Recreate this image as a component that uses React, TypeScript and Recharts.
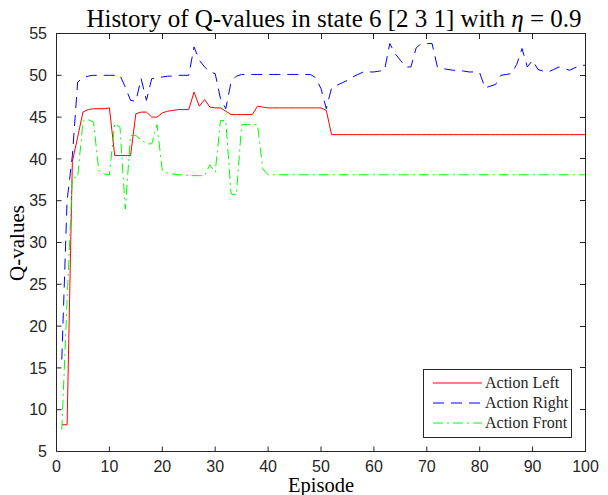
import { LineChart, Line, XAxis, YAxis } from "recharts";

// episode numbers 1..100
const episodes = Array.from({ length: 100 }, (_, i) => i + 1);

const qLeft = [
  8.2, 8.2, 39.7, 42.6, 45.6, 45.9, 46.0, 46.0, 46.0, 46.1,
  40.4, 40.4, 40.4, 40.4, 45.4, 45.6, 45.6, 45.0, 45.0, 45.5,
  45.7, 45.8, 45.9, 45.9, 45.9, 48.0, 46.3, 47.1, 46.2, 46.1,
  46.1, 45.7, 45.3, 45.3, 45.3, 45.3, 45.3, 46.3, 46.2, 46.1,
  46.1, 46.1, 46.1, 46.1, 46.1, 46.1, 46.1, 46.1, 46.1, 46.1,
  45.8, 42.9, 42.9, 42.9, 42.9, 42.9, 42.9, 42.9, 42.9, 42.9,
  42.9, 42.9, 42.9, 42.9, 42.9, 42.9, 42.9, 42.9, 42.9, 42.9,
  42.9, 42.9, 42.9, 42.9, 42.9, 42.9, 42.9, 42.9, 42.9, 42.9,
  42.9, 42.9, 42.9, 42.9, 42.9, 42.9, 42.9, 42.9, 42.9, 42.9,
  42.9, 42.9, 42.9, 42.9, 42.9, 42.9, 42.9, 42.9, 42.9, 42.9,
];

const qRight = [
  16.0, 35.0, 40.4, 49.2, 49.7, 49.9, 50.0, 50.0, 50.0, 50.0,
  50.0, 50.0, 48.6, 47.0, 46.9, 49.6, 47.0, 49.6, 49.7, 49.8,
  49.9, 49.9, 50.0, 50.0, 50.0, 53.4, 51.8, 51.0, 50.4, 50.2,
  47.2, 46.0, 49.2, 49.9, 50.1, 50.1, 50.1, 50.1, 50.1, 50.1,
  50.1, 50.1, 50.1, 50.1, 50.1, 50.1, 50.1, 50.1, 49.7, 48.4,
  46.0, 48.5, 48.8, 49.1, 49.4, 49.8, 50.1, 50.4, 50.4, 50.4,
  50.5, 50.6, 53.8, 52.6, 51.8, 51.0, 51.0, 53.3, 53.8, 53.8,
  53.8, 51.0, 50.8, 50.7, 50.6, 50.6, 50.5, 50.4, 50.4, 50.3,
  48.5, 48.7, 48.9, 50.0, 50.1, 50.2, 51.3, 53.2, 51.0, 51.8,
  50.7, 50.5, 50.4, 50.7, 51.0, 50.8, 50.6, 50.9, 51.2, 51.2,
];

const qFront = [
  7.6, 23.0, 37.8, 37.8, 44.5, 44.7, 44.4, 38.6, 38.2, 38.1,
  44.2, 43.8, 34.0, 42.8, 42.8, 42.3, 41.8, 41.8, 44.1, 38.6,
  38.3, 38.2, 38.1, 38.1, 38.0, 38.0, 38.0, 38.0, 39.3, 38.4,
  44.6, 44.6, 35.8, 35.7, 44.1, 44.1, 44.1, 44.1, 38.8, 38.1,
  38.1, 38.1, 38.1, 38.1, 38.1, 38.1, 38.1, 38.1, 38.1, 38.1,
  38.1, 38.1, 38.1, 38.1, 38.1, 38.1, 38.1, 38.1, 38.1, 38.1,
  38.1, 38.1, 38.1, 38.1, 38.1, 38.1, 38.1, 38.1, 38.1, 38.1,
  38.1, 38.1, 38.1, 38.1, 38.1, 38.1, 38.1, 38.1, 38.1, 38.1,
  38.1, 38.1, 38.1, 38.1, 38.1, 38.1, 38.1, 38.1, 38.1, 38.1,
  38.1, 38.1, 38.1, 38.1, 38.1, 38.1, 38.1, 38.1, 38.1, 38.1,
];

const xTicks = [0, 10, 20, 30, 40, 50, 60, 70, 80, 90, 100];
const yTicks = [5, 10, 15, 20, 25, 30, 35, 40, 45, 50, 55];

const seriesNames = ["Action Left", "Action Right", "Action Front"];

const data = episodes.map((ep, i) => ({
  ep,
  left: qLeft[i],
  right: qRight[i],
  front: qFront[i],
}));

const AXIS = "#262626";
const SERIF = "'Liberation Serif', 'Times New Roman', serif";
const SANS = "'Liberation Sans', Arial, sans-serif";

const X_MIN = xTicks[0];
const X_MAX = xTicks[xTicks.length - 1];
const Y_MIN = yTicks[0];
const Y_MAX = yTicks[yTicks.length - 1];

// plot box (matches chart margin + axis sizes below)
const PLOT_W = 529;
const PLOT_H = 418;

const series = [
  { key: "left", name: seriesNames[0], color: "#ff0000", dash: undefined },
  { key: "right", name: seriesNames[1], color: "#0000ff", dash: "11 7" },
  { key: "front", name: seriesNames[2], color: "#00ff00", dash: "10 4 2 4" },
];

// closes the MATLAB-style box: top and right edges with inward ticks
function Frame() {
  return (
    <div
      style={{
        position: "absolute",
        left: 56,
        top: 33,
        width: PLOT_W + 1,
        height: PLOT_H + 1,
        boxSizing: "border-box",
        borderTop: `1px solid ${AXIS}`,
        borderRight: `1px solid ${AXIS}`,
        pointerEvents: "none",
      }}
    >
      {xTicks.map((t) => (
        <div
          key={`tx-${t}`}
          style={{
            position: "absolute",
            left: (PLOT_W * (t - X_MIN)) / (X_MAX - X_MIN),
            top: 0,
            width: 1,
            height: 5,
            background: AXIS,
          }}
        />
      ))}
      {yTicks.map((t) => (
        <div
          key={`ty-${t}`}
          style={{
            position: "absolute",
            right: 0,
            top: PLOT_H * (1 - (t - Y_MIN) / (Y_MAX - Y_MIN)) - 1,
            width: 5,
            height: 1,
            background: AXIS,
          }}
        />
      ))}
    </div>
  );
}

function LegendBox() {
  return (
    <div
      style={{
        position: "absolute",
        left: 423,
        top: 369,
        width: 147,
        height: 64,
        border: `1px solid ${AXIS}`,
        background: "#fff",
        paddingTop: 3,
        boxSizing: "content-box",
      }}
    >
      {series.map((s) => (
        <div
          key={s.key}
          style={{ display: "flex", alignItems: "center", height: 20 }}
        >
          <svg width={61} height={20} style={{ flex: "none" }}>
            <line
              x1={9}
              x2={58}
              y1={10}
              y2={10}
              stroke={s.color}
              strokeWidth={1}
              strokeDasharray={s.dash}
            />
          </svg>
          <span
            style={{
              fontFamily: SERIF,
              fontSize: 16,
              color: AXIS,
              whiteSpace: "nowrap",
              lineHeight: "20px",
            }}
          >
            {s.name}
          </span>
        </div>
      ))}
    </div>
  );
}

export default function App() {
  return (
    <div
      style={{
        position: "absolute",
        left: 0,
        top: 0,
        width: 608,
        height: 495,
        background: "#fff",
        overflow: "hidden",
      }}
    >
      <div
        style={{
          position: "absolute",
          left: 84,
          width: 500,
          top: 6,
          textAlign: "center",
          fontFamily: SERIF,
          fontSize: 25,
          lineHeight: "25px",
          color: "#000",
          whiteSpace: "nowrap",
        }}
      >
        History of Q-values in state 6 [2 3 1] with <i>η</i> = 0.9
      </div>
      <LineChart
        width={608}
        height={495}
        data={data}
        margin={{ top: 33.5, right: 22.5, bottom: 0, left: 0 }}
      >
        <XAxis
          xAxisId="bottom"
          dataKey="ep"
          type="number"
          domain={[X_MIN, X_MAX]}
          ticks={xTicks}
          height={43.5}
          tickSize={-5}
          tickMargin={14}
          stroke={AXIS}
          tick={{ fill: AXIS, fontSize: 16, fontFamily: SANS }}
        />
        <YAxis
          yAxisId="left"
          type="number"
          domain={[Y_MIN, Y_MAX]}
          ticks={yTicks}
          width={56.5}
          tickSize={-5}
          tickMargin={14.5}
          stroke={AXIS}
          tick={{ fill: AXIS, fontSize: 16, fontFamily: SANS }}
        />
        {series.map((s) => (
          <Line
            key={s.key}
            xAxisId="bottom"
            yAxisId="left"
            type="linear"
            dataKey={s.key}
            name={s.name}
            stroke={s.color}
            strokeWidth={1}
            strokeDasharray={s.dash}
            dot={false}
            activeDot={false}
            isAnimationActive={false}
          />
        ))}
      </LineChart>
      <Frame />
      <div
        style={{
          position: "absolute",
          left: 56.5,
          width: 529,
          top: 475,
          textAlign: "center",
          fontFamily: SERIF,
          fontSize: 20.5,
          lineHeight: "20px",
          color: "#000",
        }}
      >
        Episode
      </div>
      <div
        style={{
          position: "absolute",
          left: 17 - 60,
          top: 243 - 10,
          width: 120,
          textAlign: "center",
          fontFamily: SERIF,
          fontSize: 21,
          lineHeight: "20px",
          color: "#000",
          transform: "rotate(-90deg)",
        }}
      >
        Q-values
      </div>
      <LegendBox />
    </div>
  );
}
